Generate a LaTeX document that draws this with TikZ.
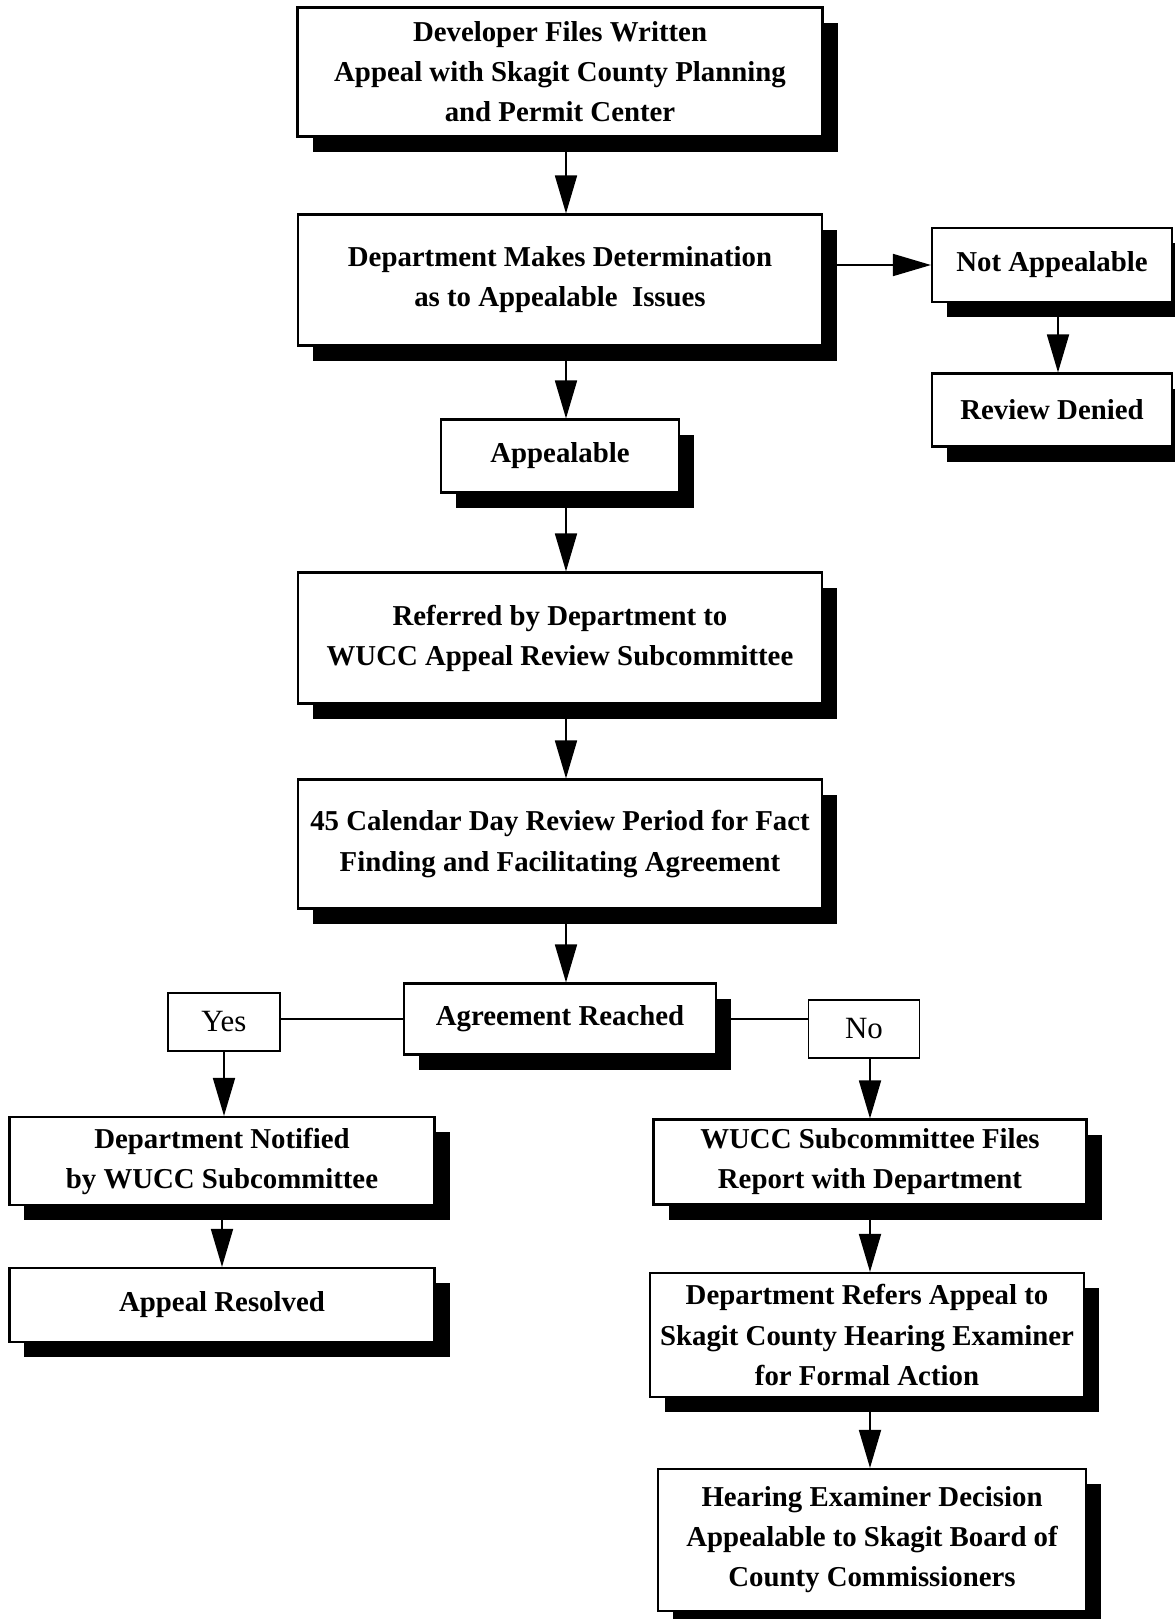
\documentclass[tikz,border=0pt]{standalone}
\usepackage{fontspec}
\setmainfont{Liberation Serif}
\usetikzlibrary{positioning,calc,arrows.meta,shadows}
\tikzset{
  flowbox/.style={draw,line width=0.6pt,fill=white,align=center,inner sep=0pt,
    font=\fontsize{8.2}{11.4}\selectfont\bfseries,
    drop shadow={shadow xshift=0.15cm,shadow yshift=-0.15cm,fill=black,opacity=1}},
  choicebox/.style={draw,line width=0.4pt,fill=white,inner sep=0pt,
    font=\fontsize{8.8}{11.4}\selectfont},
  boxdim/.style 2 args={minimum width=#1cm,minimum height=#2cm},
  flowarrow/.style={line width=0.5pt,-{Triangle[length=0.38cm,width=0.22cm]}}
}

\begin{document}
\begin{tikzpicture}
\useasboundingbox (0,0) rectangle (11.74,-16.19);
\coordinate (spine) at (5.66,0);   % x of the main arrows
\coordinate (rspine) at (8.70,0);  % x of the right hand arrows
\coordinate (nspine) at (10.58,0); % x of the not appealable arrow
% Main column
\node[flowbox,boxdim={5.25}{1.29}] (dev) at (5.60,-0.72)
  {Developer Files Written\\Appeal with Skagit County Planning\\and Permit Center};
\node[flowbox,boxdim={5.24}{1.31}] (det) at (5.60,-2.80)
  {Department Makes Determination\\as to Appealable\ \ Issues};
\node[flowbox,boxdim={2.40}{0.74}] (notap) at (10.52,-2.65) {Not Appealable};
\node[flowbox,boxdim={2.40}{0.73}] (denied) at (10.52,-4.10) {Review Denied};
\node[flowbox,boxdim={2.38}{0.73}] (appeal) at (5.60,-4.56) {Appealable};
\node[flowbox,boxdim={5.24}{1.31}] (ref) at (5.60,-6.38)
  {Referred by Department to\\WUCC Appeal Review Subcommittee};
\node[flowbox,boxdim={5.24}{1.29}] (cal) at (5.60,-8.44)
  {45 Calendar Day Review Period for Fact\\Finding and Facilitating Agreement};
\node[flowbox,boxdim={3.12}{0.71}] (agree) at (5.60,-10.19) {Agreement Reached};
% Yes and No
\node[choicebox,boxdim={1.12}{0.58}] (yes) at (2.24,-10.22) {Yes};
\node[choicebox,boxdim={1.11}{0.58}] (no) at (8.64,-10.29) {No};
% Left branch
\node[flowbox,boxdim={4.25}{0.88}] (notif) at (2.22,-11.61)
  {Department Notified\\by WUCC Subcommittee};
\node[flowbox,boxdim={4.25}{0.74}] (resolved) at (2.22,-13.05) {Appeal Resolved};
% Right branch
\node[flowbox,boxdim={4.33}{0.85}] (files) at (8.70,-11.62)
  {WUCC Subcommittee Files\\Report with Department};
\node[flowbox,boxdim={4.34}{1.24}] (refers) at (8.67,-13.35)
  {Department Refers Appeal to\\Skagit County Hearing Examiner\\for Formal Action};
\node[flowbox,boxdim={4.28}{1.42}] (decision) at (8.72,-15.40)
  {Hearing Examiner Decision\\Appealable to Skagit Board of\\County Commissioners};
% Arrows down the middle
\draw[flowarrow] (dev.south -| spine) -- (det.north -| spine);
\draw[flowarrow] (det.south -| spine) -- (appeal.north -| spine);
\draw[flowarrow] (appeal.south -| spine) -- (ref.north -| spine);
\draw[flowarrow] (ref.south -| spine) -- (cal.north -| spine);
\draw[flowarrow] (cal.south -| spine) -- (agree.north -| spine);
% Not appealable side
\draw[flowarrow] (det.east |- notap.west) -- (notap.west);
\draw[flowarrow] (notap.south -| nspine) -- (denied.north -| nspine);
% Branches
\draw[line width=0.5pt] (agree.west) -- (agree.west -| yes.east);
\draw[line width=0.5pt] (agree.east) -- (agree.east -| no.west);
\draw[flowarrow] (yes.south) -- (yes.south |- notif.north);
\draw[flowarrow] (notif.south) -- (resolved.north);
\draw[flowarrow] (no.south -| rspine) -- (files.north -| rspine);
\draw[flowarrow] (files.south -| rspine) -- (refers.north -| rspine);
\draw[flowarrow] (refers.south -| rspine) -- (decision.north -| rspine);
\end{tikzpicture}
\end{document}
